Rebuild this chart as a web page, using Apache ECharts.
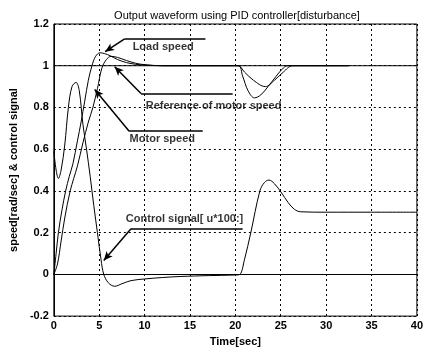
<!DOCTYPE html>
<html>
<head>
<meta charset="utf-8">
<script src="https://cdn.jsdelivr.net/npm/echarts@6/dist/echarts.min.js"></script>
<style>html,body{margin:0;padding:0;background:#fff}#c{width:426px;height:352px}</style>
</head>
<body>
<div id="c"></div>
<script>
// ---- data ----
var ctrlT = [0, 0.25, 0.5, 0.8, 1.2, 1.6, 2.0, 2.45, 2.8, 3.2, 3.6, 4.0, 4.4, 4.8, 5.2, 5.5, 6.0, 6.7, 7.5, 8.5, 10, 12, 14, 17, 20, 20.5, 21, 21.7, 22.7, 23.2, 23.7, 24.3, 25.1, 25.8, 26.5, 27.2, 30, 35, 40];
var ctrlV = [0.59, 0.5, 0.46, 0.5, 0.62, 0.8, 0.9, 0.92, 0.88, 0.72, 0.6, 0.47, 0.33, 0.2, 0.07, 0.0, -0.04, -0.057, -0.045, -0.03, -0.022, -0.015, -0.01, -0.006, -0.003, 0.0, 0.07, 0.2, 0.4, 0.44, 0.452, 0.435, 0.39, 0.345, 0.312, 0.3, 0.298, 0.298, 0.298];
var loadT = [0, 0.25, 0.5, 0.9, 1.3, 1.7, 2.1, 2.6, 3.0, 3.4, 3.8, 4.2, 4.6, 5.1, 5.6, 6.2, 7, 8, 9, 10, 12, 20.3, 20.8, 21.4, 22.1, 22.8, 23.6, 24.5, 25.3, 25.8, 32.5];
var loadV = [0, 0.1, 0.2, 0.31, 0.4, 0.47, 0.53, 0.64, 0.73, 0.83, 0.93, 1.0, 1.045, 1.062, 1.058, 1.048, 1.03, 1.015, 1.007, 1.003, 1.0, 1.0, 0.95, 0.88, 0.846, 0.86, 0.9, 0.95, 0.99, 1.0, 1.0];
var motorT = [0, 0.4, 0.8, 1.2, 1.8, 2.6, 3.2, 3.8, 4.3, 4.8, 5.3, 5.8, 6.3, 7, 8, 9, 10, 12, 20.3, 21, 22, 23.3, 24.3, 25.3, 26.3, 32.5];
var motorV = [0, 0.05, 0.16, 0.27, 0.4, 0.52, 0.63, 0.73, 0.8, 0.89, 0.99, 1.03, 1.045, 1.04, 1.025, 1.012, 1.005, 1.0, 1.0, 0.97, 0.93, 0.9, 0.93, 0.97, 1.0, 1.0];
var refT = [0, 40];
var refV = [1, 1];

var xTickLabels = ['0', '5', '10', '15', '20', '25', '30', '35', '40'];
var yTickLabels = ['-0.2', '0', '0.2', '0.4', '0.6', '0.8', '1', '1.2'];

// annotation leaders: [end of underline, corner, arrow tip]
var annoLoad = [[16.7, 1.129], [7.8, 1.129], [5.65, 1.067]];
var annoRef = [[19.7, 0.867], [9.6, 0.867], [6.7, 0.995]];
var annoMotor = [[16.4, 0.686], [8.3, 0.686], [4.5, 0.886]];
var annoCtrl = [[20.8, 0.219], [8.5, 0.219], [5.5, 0.067]];
var annoTexts = [
  [12.05, 1.09, 'Load speed'],
  [17.6, 0.805, 'Reference of motor speed'],
  [11.95, 0.648, 'Motor speed'],
  [14.4, 0.267, 'Control signal[ u*100:]']
];

function zip(t, v) { return t.map(function (x, i) { return [x, v[i]]; }); }
function leader(a) {
  return [
    [{ coord: a[0], symbol: 'none' }, { coord: a[1], symbol: 'none' }],
    [{ coord: a[1], symbol: 'none' }, { coord: a[2], symbol: 'arrow', symbolSize: [6, 9] }]
  ];
}

var FONT = 'Liberation Sans';
var chart = echarts.init(document.getElementById('c'), null, { renderer: 'canvas' });
var curveStyle = { color: '#000', width: 1 };

chart.setOption({
  animation: false,
  backgroundColor: '#fff',
  title: {
    text: 'Output waveform using PID controller[disturbance]',
    left: 232, top: 5, textAlign: 'center',
    textStyle: { fontFamily: FONT, fontSize: 11, fontWeight: 'normal', color: '#000' }
  },
  grid: { left: 45, right: 6, top: 24, bottom: 33, show: true, borderColor: '#000', borderWidth: 1, backgroundColor: 'transparent' },
  xAxis: {
    type: 'value', min: 0, max: 40, interval: 5,
    name: 'Time[sec]', nameLocation: 'middle', nameGap: 14,
    nameTextStyle: { fontFamily: FONT, fontSize: 11, fontWeight: 'bold', color: '#000' },
    axisLine: { show: true, lineStyle: { color: '#000' } },
    axisTick: { show: false },
    axisLabel: { margin: 4, fontFamily: FONT, fontSize: 11, fontWeight: 'bold', color: '#000',
      formatter: function (v) { return xTickLabels[Math.round(v / 5)]; } },
    splitLine: { show: true, lineStyle: { color: '#000', type: [2, 3], width: 1 } }
  },
  yAxis: {
    type: 'value', min: -0.2, max: 1.2, interval: 0.2,
    name: 'speed[rad/sec] & control signal', nameLocation: 'middle', nameGap: 30,
    nameTextStyle: { fontFamily: FONT, fontSize: 11, fontWeight: 'bold', color: '#000' },
    axisLine: { show: true, lineStyle: { color: '#000' } },
    axisTick: { show: false },
    axisLabel: { margin: 5, fontFamily: FONT, fontSize: 11, fontWeight: 'bold', color: '#000',
      formatter: function (v) { return yTickLabels[Math.round((v + 0.2) / 0.2)]; } },
    splitLine: { show: true, lineStyle: { color: '#000', type: [2, 3], width: 1 } }
  },
  series: [
    { type: 'line', data: zip(refT, refV), showSymbol: false, lineStyle: curveStyle, z: 3 },
    { type: 'line', data: zip(ctrlT, ctrlV), showSymbol: false, smooth: 0.35, lineStyle: curveStyle, z: 3 },
    { type: 'line', data: zip(loadT, loadV), showSymbol: false, smooth: 0.35, lineStyle: curveStyle, z: 3 },
    { type: 'line', data: zip(motorT, motorV), showSymbol: false, smooth: 0.35, lineStyle: curveStyle, z: 3 },
    {
      type: 'line', data: [], z: 5,
      markLine: {
        silent: true, animation: false, label: { show: false },
        lineStyle: { color: '#000', width: 1.5, type: 'solid' },
        data: [].concat(leader(annoLoad), leader(annoRef), leader(annoMotor), leader(annoCtrl))
      }
    },
    {
      type: 'scatter', symbolSize: 0, z: 6, data: annoTexts,
      label: { show: true, position: 'inside', formatter: function (p) { return p.data[2]; },
        fontFamily: FONT, fontSize: 11, fontWeight: 'bold', color: '#000' }
    }
  ]
});
</script>
</body>
</html>
